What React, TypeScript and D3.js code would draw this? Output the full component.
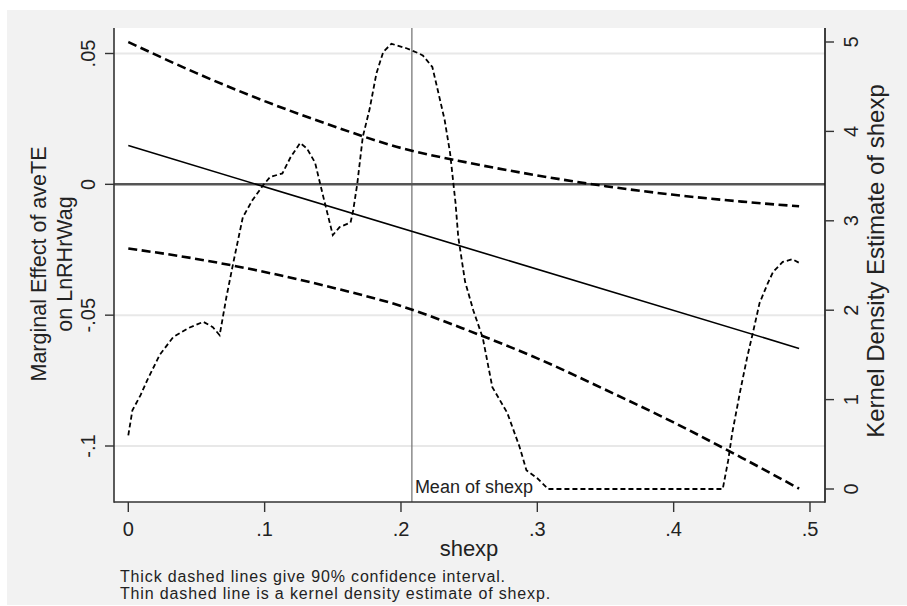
import React from "react";
import * as d3 from "d3";

// Marginal effect of aveTE on LnRHrWag across shexp, with 90% CI and kernel density of shexp
const effectShexp = [0, 0.492];
const effectValue = [0.0148, -0.0627];

const ciShexp = [0, 0.05, 0.1, 0.15, 0.2, 0.25, 0.3, 0.35, 0.4, 0.45, 0.492];
const ciUpper = [0.0544, 0.0425, 0.0318, 0.0223, 0.0139, 0.0082, 0.0034, -0.0007, -0.004, -0.0066, -0.0084];
const ciLower = [-0.0245, -0.0285, -0.0335, -0.0395, -0.0465, -0.056, -0.0665, -0.0785, -0.091, -0.1045, -0.1163];

const densityShexp = [
  0, 0.003, 0.009, 0.014, 0.023, 0.033, 0.044, 0.055, 0.062, 0.067, 0.072, 0.077, 0.084, 0.091,
  0.099, 0.104, 0.113, 0.119, 0.126, 0.131, 0.137, 0.143, 0.15, 0.155, 0.163, 0.165, 0.168, 0.172,
  0.177, 0.182, 0.187, 0.193, 0.204, 0.212, 0.216, 0.223, 0.227, 0.232, 0.236, 0.24, 0.242, 0.247,
  0.253, 0.26, 0.267, 0.278, 0.287, 0.292, 0.3, 0.308, 0.436, 0.44, 0.443, 0.449, 0.454, 0.458,
  0.463, 0.469, 0.473, 0.48, 0.487, 0.492,
];
const densityValue = [
  0.6, 0.88, 1.05, 1.22, 1.5, 1.7, 1.8, 1.87, 1.81, 1.72, 2.15, 2.53, 3.04, 3.23,
  3.4, 3.49, 3.53, 3.71, 3.87, 3.81, 3.65, 3.27, 2.84, 2.93, 2.98, 3.12, 3.42, 3.94,
  4.25, 4.65, 4.89, 4.98, 4.93, 4.88, 4.85, 4.72, 4.46, 4.13, 3.76, 3.2, 2.82, 2.32,
  2.0, 1.69, 1.14, 0.85, 0.47, 0.21, 0.12, 0, 0, 0.32, 0.63, 1.11, 1.48, 1.74,
  2.08, 2.3, 2.43, 2.54, 2.57, 2.53,
];

const meanShexp = 0.208;

const xTicks = [0, 0.1, 0.2, 0.3, 0.4, 0.5];
const xTickLabels = ["0", ".1", ".2", ".3", ".4", ".5"];
const leftTicks = [-0.1, -0.05, 0, 0.05];
const leftTickLabels = ["-.1", "-.05", "0", ".05"];
const leftGridTicks = [-0.1, -0.05, 0.05];
const rightTicks = [0, 1, 2, 3, 4, 5];
const rightTickLabels = ["0", "1", "2", "3", "4", "5"];

const W = 907;
const H = 606;
const plot = { left: 114, right: 825, top: 28, bottom: 502 };
const FONT = "'Liberation Sans', Arial, sans-serif";
const TEXT = "#222";

export default function App() {
  const x = d3.scaleLinear().domain([0, 0.5]).range([128.3, 810]);
  const yL = d3.scaleLinear().domain([-0.1, 0.05]).range([446, 53.5]);
  const yR = d3.scaleLinear().domain([0, 5]).range([489, 42]);

  const pairs = (xs: number[], ys: number[]) => xs.map((v, i) => [v, ys[i]] as [number, number]);

  const lineL = d3
    .line<[number, number]>()
    .x((d) => x(d[0]))
    .y((d) => yL(d[1]))
    .curve(d3.curveMonotoneX);
  const lineR = d3
    .line<[number, number]>()
    .x((d) => x(d[0]))
    .y((d) => yR(d[1]))
    .curve(d3.curveLinear);

  return (
    <svg
      width={W}
      height={H}
      style={{ position: "absolute", left: 0, top: 0, display: "block" }}
      fontFamily={FONT}
    >
      <rect x={0} y={0} width={W} height={H} fill="#ffffff" />
      <rect x={7} y={10} width={W - 7} height={H - 11} fill="#f2f2f2" />
      <rect
        x={plot.left}
        y={plot.top}
        width={plot.right - plot.left}
        height={plot.bottom - plot.top}
        fill="#ffffff"
      />

      {/* grid lines */}
      {leftGridTicks.map((t) => (
        <line
          key={"g" + t}
          x1={plot.left}
          x2={plot.right}
          y1={yL(t)}
          y2={yL(t)}
          stroke="#e8e8e8"
          strokeWidth={2}
        />
      ))}

      {/* reference lines */}
      <line x1={x(meanShexp)} x2={x(meanShexp)} y1={plot.top} y2={plot.bottom} stroke="#6e6e6e" strokeWidth={1.2} />
      <line x1={plot.left} x2={plot.right} y1={yL(0)} y2={yL(0)} stroke="#555555" strokeWidth={2.5} />

      {/* series */}
      <path d={lineL(pairs(effectShexp, effectValue)) ?? ""} fill="none" stroke="#000" strokeWidth={1.6} />
      <path
        d={lineL(pairs(ciShexp, ciUpper)) ?? ""}
        fill="none"
        stroke="#000"
        strokeWidth={2.6}
        strokeDasharray="9,4.5"
      />
      <path
        d={lineL(pairs(ciShexp, ciLower)) ?? ""}
        fill="none"
        stroke="#000"
        strokeWidth={2.6}
        strokeDasharray="9,4.5"
      />
      <path
        d={lineR(pairs(densityShexp, densityValue)) ?? ""}
        fill="none"
        stroke="#000"
        strokeWidth={1.8}
        strokeDasharray="5,3"
      />

      <text x={x(meanShexp) + 3} y={493} fontSize={18} fill={TEXT}>
        Mean of shexp
      </text>

      {/* axes */}
      <line x1={plot.left} x2={plot.left} y1={plot.top} y2={plot.bottom + 0.75} stroke="#333" strokeWidth={1.6} />
      <line x1={plot.right} x2={plot.right} y1={plot.top} y2={plot.bottom + 0.75} stroke="#111" strokeWidth={1.6} />
      <line x1={plot.left} x2={plot.right} y1={plot.bottom} y2={plot.bottom} stroke="#333" strokeWidth={1.6} />

      {leftTicks.map((t, i) => (
        <g key={"l" + t}>
          <line x1={plot.left - 9} x2={plot.left} y1={yL(t)} y2={yL(t)} stroke="#333" strokeWidth={1.4} />
          <text transform={`translate(95,${yL(t)}) rotate(-90)`} textAnchor="middle" fontSize={20} fill={TEXT}>
            {leftTickLabels[i]}
          </text>
        </g>
      ))}

      {rightTicks.map((t, i) => (
        <g key={"r" + t}>
          <line x1={plot.right} x2={plot.right + 9} y1={yR(t)} y2={yR(t)} stroke="#333" strokeWidth={1.4} />
          <text transform={`translate(858,${yR(t)}) rotate(-90)`} textAnchor="middle" fontSize={20} fill={TEXT}>
            {rightTickLabels[i]}
          </text>
        </g>
      ))}

      {xTicks.map((t, i) => (
        <g key={"x" + t}>
          <line x1={x(t)} x2={x(t)} y1={plot.bottom} y2={plot.bottom + 10} stroke="#333" strokeWidth={1.4} />
          <text x={x(t)} y={536} textAnchor="middle" fontSize={20} fill={TEXT}>
            {xTickLabels[i]}
          </text>
        </g>
      ))}

      {/* axis titles */}
      <text transform="translate(46,264) rotate(-90)" textAnchor="middle" fontSize={21.5} fill={TEXT}>
        Marginal Effect of aveTE
      </text>
      <text transform="translate(72,264) rotate(-90)" textAnchor="middle" fontSize={21.5} fill={TEXT}>
        on LnRHrWag
      </text>
      <text transform="translate(883.5,261) rotate(-90)" textAnchor="middle" fontSize={24} fill={TEXT}>
        Kernel Density Estimate of shexp
      </text>
      <text x={469} y={556} textAnchor="middle" fontSize={22} fill={TEXT}>
        shexp
      </text>

      {/* note */}
      <text x={120} y={582} fontSize={16} letterSpacing={0.85} fill={TEXT}>
        Thick dashed lines give 90% confidence interval.
      </text>
      <text x={120} y={598.5} fontSize={16} letterSpacing={0.85} fill={TEXT}>
        Thin dashed line is a kernel density estimate of shexp.
      </text>
    </svg>
  );
}
